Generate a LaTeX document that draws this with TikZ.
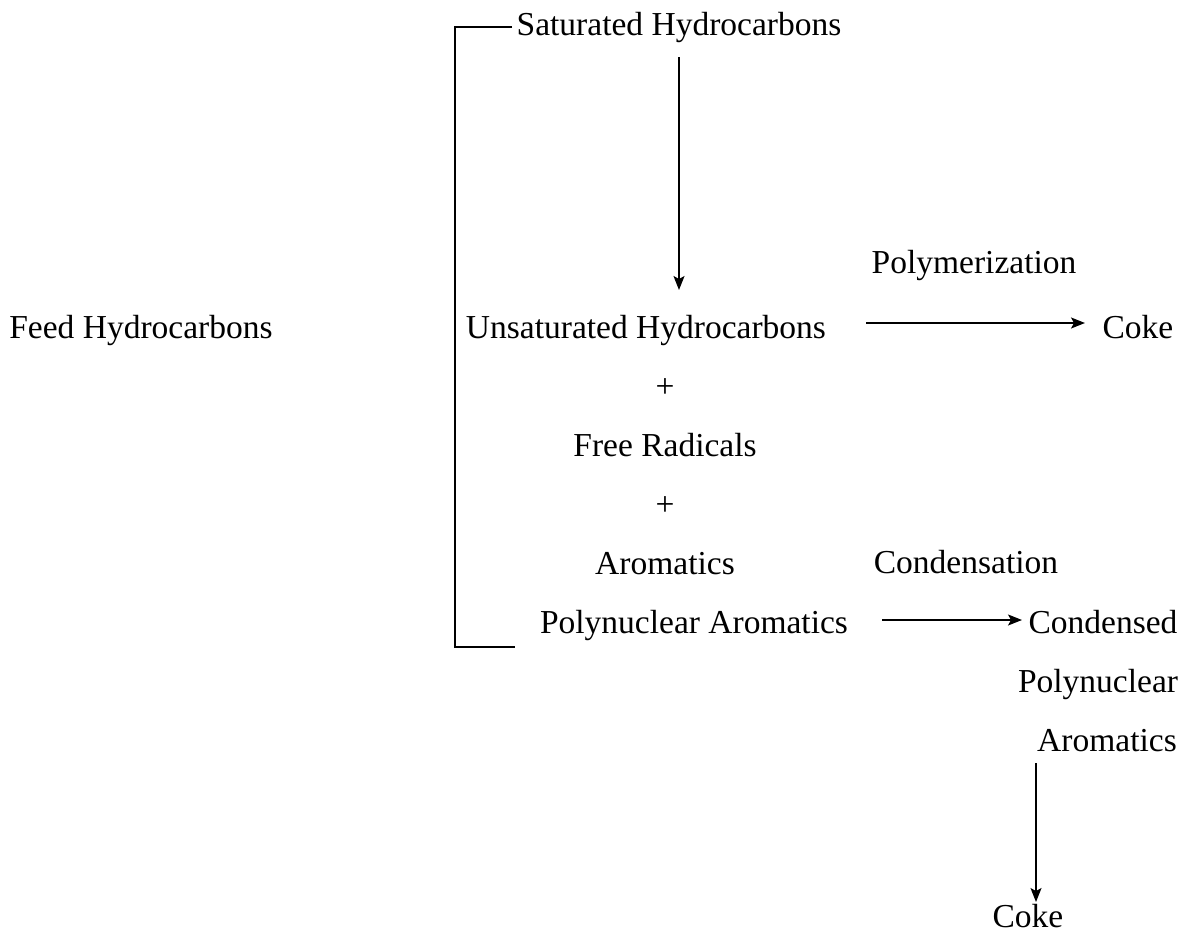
\documentclass[tikz,border=0pt]{standalone}
\usepackage{fontspec}
\setmainfont{Liberation Serif}
\usetikzlibrary{arrows.meta}
\begin{document}
\begin{tikzpicture}[x=1pt,y=-1pt,
  lbl/.style={inner sep=0pt,anchor=base,font=\fontsize{33.5}{38}\selectfont},
  conn/.style={line width=1.3pt,-{Stealth[length=14pt,width=11pt,inset=3pt]}},
  brk/.style={line width=1.2pt}]
\useasboundingbox (0,0) rectangle (1192,937);
\node[lbl] (sat) at (679,35) {Saturated Hydrocarbons};
\node[lbl] (feed) at (141,338) {Feed Hydrocarbons};
\node[lbl] (unsat) at (646,338) {Unsaturated Hydrocarbons};
\node[lbl] (plus1) at (665,397) {+};
\node[lbl] (free) at (665,456) {Free Radicals};
\node[lbl] (plus2) at (665,515) {+};
\node[lbl] (arom) at (665,574) {Aromatics};
\node[lbl] (pna) at (694,633) {Polynuclear Aromatics};
\node[lbl] (poly) at (974,273) {Polymerization};
\node[lbl] (coke1) at (1138,338) {Coke};
\node[lbl] (cond) at (966,573) {Condensation};
\node[lbl] (cpna1) at (1103,633) {Condensed};
\node[lbl] (cpna2) at (1098,692) {Polynuclear};
\node[lbl] (cpna3) at (1107,751) {Aromatics};
\node[lbl] (coke2) at (1028,927) {Coke};
% arrow endpoints
\coordinate (a1s) at (679,57);
\coordinate (a1e) at (679,290);
\coordinate (a2s) at (866,323);
\coordinate (a2e) at (1085,323);
\coordinate (a3s) at (882,620);
\coordinate (a3e) at (1022,620);
\coordinate (a4s) at (1036,763);
\coordinate (a4e) at (1036,902);
\draw[conn] (a1s) -- (a1e);
\draw[conn] (a2s) -- (a2e);
\draw[conn] (a3s) -- (a3e);
\draw[conn] (a4s) -- (a4e);
% bracket
\coordinate (bt) at (512,27);
\coordinate (bb) at (515,647);
\draw[brk] (bt) -- (455,27) -- (455,647) -- (bb);
\end{tikzpicture}
\end{document}
